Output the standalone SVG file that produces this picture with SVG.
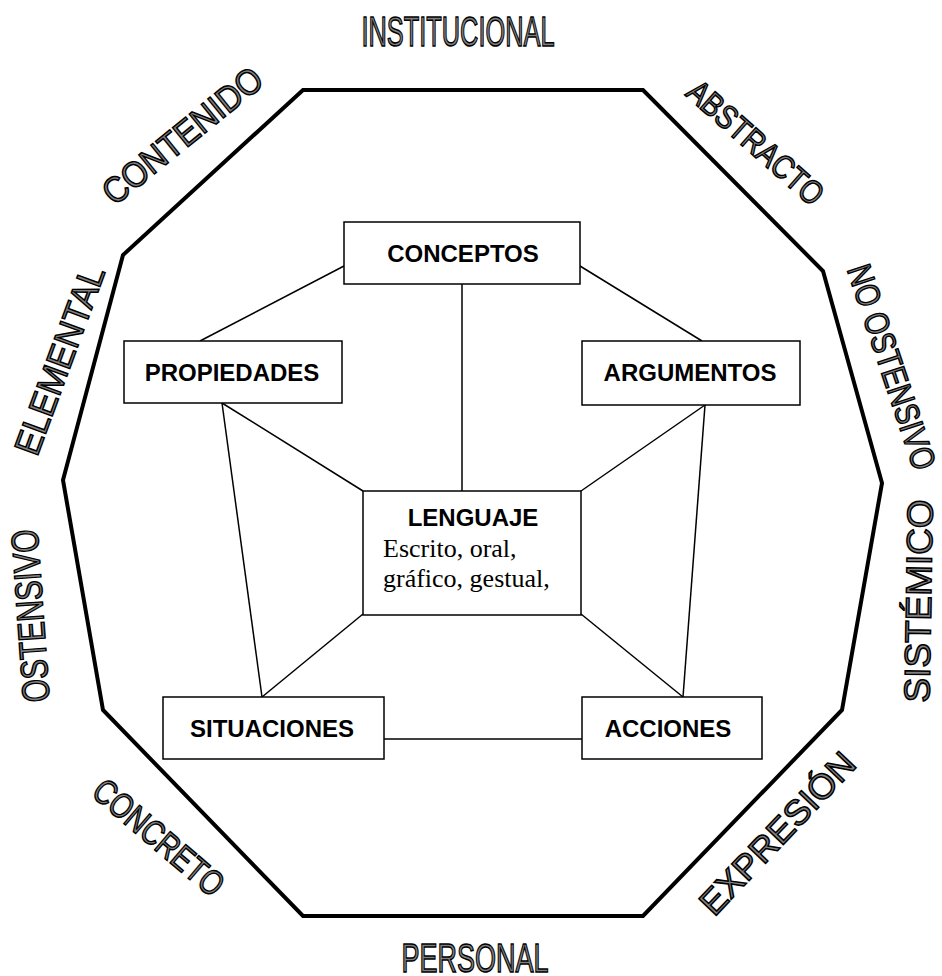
<svg xmlns="http://www.w3.org/2000/svg" width="942" height="976" viewBox="0 0 942 976">
<style>
.frame{fill:none;stroke:#000;stroke-width:4;stroke-linejoin:miter}
.box{fill:#fff;stroke:#000;stroke-width:1.5}
.lbl{font-family:"Liberation Sans",Arial,sans-serif;font-weight:bold;font-size:24px;text-anchor:middle;fill:#000}
.sub{font-family:"Liberation Serif","Times New Roman",serif;font-size:26px;fill:#000}
.out{font-family:"Liberation Sans",Arial,sans-serif;fill:#808080;stroke:#000;stroke-width:1.5;text-anchor:middle}
#connectors line{stroke:#000;stroke-width:1.5}
</style>
<rect width="942" height="976" fill="#fff"/>
<polygon class="frame" points="303,90 643,90 823,271 882,483 842,710 643,916 303,916 103,710 63,480 123,255"/>
<g id="labels">
<text class="out" x="458" y="46" font-size="43" textLength="193" lengthAdjust="spacingAndGlyphs">INSTITUCIONAL</text>
<text class="out" x="475" y="972" font-size="41" textLength="147" lengthAdjust="spacingAndGlyphs">PERSONAL</text>
<text class="out" transform="translate(182,135) rotate(-39)" x="0" y="13" font-size="36" textLength="195" lengthAdjust="spacingAndGlyphs">CONTENIDO</text>
<text class="out" transform="translate(756,142) rotate(41.5)" x="0" y="12" font-size="33" textLength="170" lengthAdjust="spacingAndGlyphs">ABSTRACTO</text>
<text class="out" transform="translate(892,367) rotate(71.6)" x="0" y="12" font-size="34" textLength="214" lengthAdjust="spacingAndGlyphs">NO OSTENSIVO</text>
<text class="out" transform="translate(918,601) rotate(-89)" x="0" y="13" font-size="36" textLength="203" lengthAdjust="spacingAndGlyphs">SISTÉMICO</text>
<text class="out" transform="translate(777,833) rotate(-46.5)" x="0" y="12.5" font-size="35" textLength="209" lengthAdjust="spacingAndGlyphs">EXPRESIÓN</text>
<text class="out" transform="translate(159,837) rotate(40.4)" x="0" y="12.5" font-size="35" textLength="160" lengthAdjust="spacingAndGlyphs">CONCRETO</text>
<text class="out" transform="translate(30,616) rotate(-94)" x="0" y="13.5" font-size="38" textLength="173" lengthAdjust="spacingAndGlyphs">OSTENSIVO</text>
<text class="out" transform="translate(59,360) rotate(-69.8)" x="0" y="13" font-size="36" textLength="198" lengthAdjust="spacingAndGlyphs">ELEMENTAL</text>
</g>
<g id="connectors">
<line x1="344" y1="266" x2="200" y2="341"/>
<line x1="580" y1="266" x2="702" y2="341"/>
<line x1="462" y1="284" x2="462" y2="491"/>
<line x1="222" y1="403" x2="363" y2="491"/>
<line x1="705" y1="405" x2="581" y2="491"/>
<line x1="222" y1="403" x2="262" y2="697"/>
<line x1="705" y1="405" x2="683" y2="697"/>
<line x1="363" y1="614" x2="262" y2="697"/>
<line x1="581" y1="614" x2="683" y2="697"/>
<line x1="384" y1="739" x2="582" y2="739"/>
</g>
<g id="conceptos"><rect class="box" x="344" y="222" width="236" height="62"/><text class="lbl" x="463" y="262">CONCEPTOS</text></g>
<g id="propiedades"><rect class="box" x="124" y="341" width="218" height="62"/><text class="lbl" x="232" y="381">PROPIEDADES</text></g>
<g id="argumentos"><rect class="box" x="582" y="341" width="218" height="64"/><text class="lbl" x="690" y="381">ARGUMENTOS</text></g>
<g id="lenguaje"><rect class="box" x="363" y="491" width="218" height="124"/><text class="lbl" x="473" y="526" font-size="26">LENGUAJE</text><text class="sub" x="383" y="557">Escrito, oral,</text><text class="sub" x="383" y="587">gráfico, gestual,</text></g>
<g id="situaciones"><rect class="box" x="163" y="697" width="221" height="62"/><text class="lbl" x="272" y="737">SITUACIONES</text></g>
<g id="acciones"><rect class="box" x="582" y="697" width="180" height="62"/><text class="lbl" x="668" y="737">ACCIONES</text></g>
</svg>
